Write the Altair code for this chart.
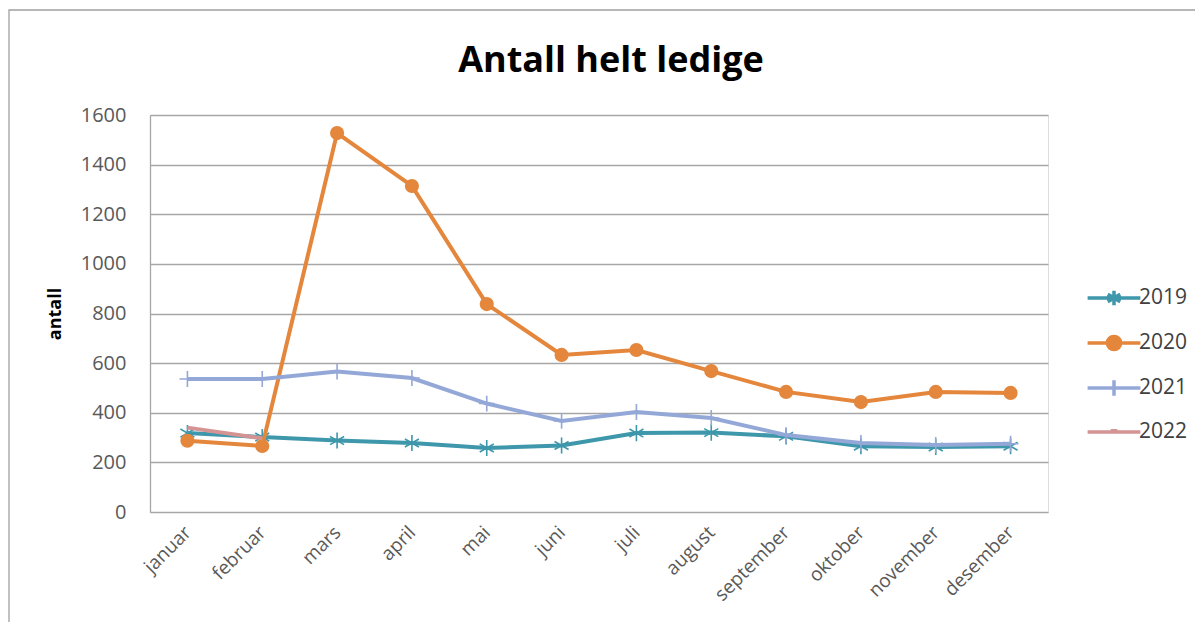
import altair as alt
import pandas as pd

months = ["januar", "februar", "mars", "april", "mai", "juni", "juli",
          "august", "september", "oktober", "november", "desember"]
series = ["2019", "2020", "2021", "2022"]
v2019 = [318, 302, 288, 278, 258, 268, 318, 320, 305, 265, 262, 265]
v2020 = [287, 266, 1527, 1314, 838, 633, 653, 568, 484, 443, 484, 480]
v2021 = [536, 536, 566, 540, 437, 367, 403, 379, 310, 278, 270, 275]
v2022 = [340, 297]
yticks = [0, 200, 400, 600, 800, 1000, 1200, 1400, 1600]
title_text = "Antall helt ledige"

colors = ["#3E97AB", "#E4863B", "#94A8D8", "#D49494"]
values = [v2019, v2020, v2021, v2022]

FONT = "Open Sans"
W, H = 898, 397

ASTER = "M0,-1L0,1M-0.87,-0.5L0.87,0.5M-0.87,0.5L0.87,-0.5"
PLUS = "M0,-1L0,1M-1,0L1,0"

x_enc = alt.X("month:N", sort=months,
              scale=alt.Scale(domain=months, type="point", padding=0.5),
              axis=alt.Axis(title=None, labelAngle=-45, labelAlign="right",
                            labelBaseline="middle", labelFontSize=19,
                            labelColor="#595959", labelFont=FONT, ticks=False,
                            domain=False, grid=False, labelPadding=17))
y_enc = alt.Y("value:Q",
              scale=alt.Scale(domain=[0, 1600], nice=False, zero=True),
              axis=alt.Axis(title="antall", values=yticks, format="d",
                            titleFontSize=18, titleFont=FONT,
                            titleFontWeight="bold", titleColor="#000000",
                            titleX=-95, titleY=H / 2, titleAngle=-90,
                            titleBaseline="middle", titleAlign="center",
                            labelFontSize=20, labelColor="#595959",
                            labelFont=FONT, ticks=False, labelPadding=24,
                            grid=True, gridColor="#A6A6A6", gridWidth=1.3,
                            domain=True, domainColor="#A6A6A6",
                            domainWidth=1.3))

one = pd.DataFrame({"a": [0]})
layers = []
frame = alt.Chart(one).mark_rect(
    fill="transparent", stroke="#A0A0A0", strokeWidth=1.3
).encode(x=alt.value(-141), x2=alt.value(1046), y=alt.value(-105),
         y2=alt.value(540))
layers.append(frame)

title = alt.Chart(one).mark_text(
    text=title_text, font=FONT, fontSize=36, fontWeight="bold",
    color="#000000", align="center", baseline="alphabetic"
).encode(x=alt.value(461), y=alt.value(-43))
layers.append(title)

for name, vals, col in zip(series, values, colors):
    df = pd.DataFrame({"month": months[:len(vals)], "value": vals})
    base = alt.Chart(df)
    layers.append(base.mark_line(color=col, strokeWidth=4).encode(x=x_enc, y=y_enc))
    if name == "2019":
        layers.append(base.mark_point(shape=ASTER, size=260, filled=False,
                                      color=col, strokeWidth=1.6, opacity=1)
                      .encode(x=x_enc, y=y_enc))
    elif name == "2020":
        layers.append(base.mark_point(shape="circle", size=200, filled=True,
                                      color=col, opacity=1)
                      .encode(x=x_enc, y=y_enc))
    elif name == "2021":
        layers.append(base.mark_point(shape=PLUS, size=250, filled=False,
                                      color=col, strokeWidth=1.6, opacity=1)
                      .encode(x=x_enc, y=y_enc))

leg_paths = [
    "M-2.4,0L2.4,0M0,-0.65L0,0.65M-0.57,-0.33L0.57,0.33M-0.57,0.33L0.57,-0.33",
    "M-2.4,0L2.4,0M0.6,0A0.6,0.6 0 1,1 -0.6,0A0.6,0.6 0 1,1 0.6,0Z",
    "M-2.4,0L2.4,0M0,-0.7L0,0.7",
    "M-2.4,0L2.4,0M-0.3,-0.12L0.3,-0.12",
]
leg = alt.Legend(title=None, orient="none", legendX=951, legendY=170,
                 labelFontSize=21, labelFont=FONT, labelColor="#404040",
                 symbolSize=484, symbolStrokeWidth=3.5, labelOffset=12,
                 rowPadding=16, padding=0)
legend_layer = alt.Chart(pd.DataFrame({"series": series})).transform_filter(
    "false").mark_point(filled=False, opacity=1).encode(
    shape=alt.Shape("series:N", scale=alt.Scale(domain=series, range=leg_paths), legend=leg),
    stroke=alt.Stroke("series:N", scale=alt.Scale(domain=series, range=colors), legend=leg),
    fill=alt.Fill("series:N", scale=alt.Scale(domain=series, range=colors), legend=leg),
)
layers.append(legend_layer)

chart = alt.layer(*layers).properties(
    width=W, height=H,
    autosize=alt.AutoSizeParams(type="none"),
    padding={"left": 142, "top": 107, "right": 147, "bottom": 110},
).configure_view(stroke=None).configure(background="white")

chart.save("out.html", embed_options={"renderer": "svg", "actions": False})
